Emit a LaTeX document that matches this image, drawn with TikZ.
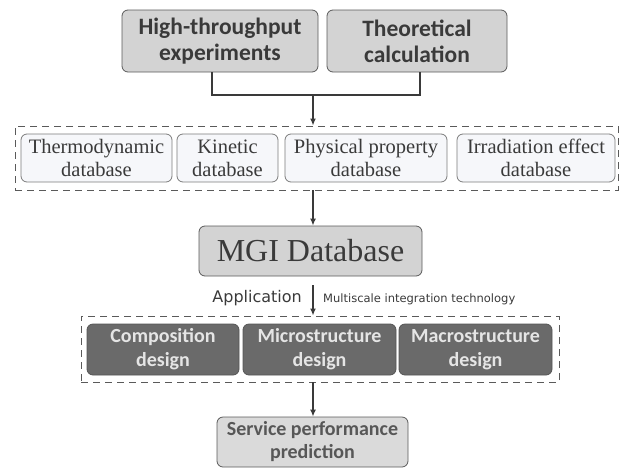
\documentclass[tikz,border=0pt]{standalone}
\usepackage{fontspec}
\setmainfont{Liberation Serif}
\newfontfamily\calib{Carlito}
\newfontfamily\verd{DejaVu Sans}
\newfontfamily\verdc{DejaVu Sans Condensed}
\usetikzlibrary{arrows.meta}
\definecolor{topfill}{HTML}{D3D3D3}
\definecolor{dbfill}{HTML}{F6F7FA}
\definecolor{darkfill}{HTML}{6A6A6A}
\definecolor{edge}{HTML}{5A5A5A}
\definecolor{txt}{HTML}{3A3A3A}
\tikzset{
  box/.style={draw=edge, line width=0.8pt, rounded corners=6pt, align=center, inner sep=0pt},
  topbox/.style={box, fill=topfill, text=txt, font=\calib\bfseries\fontsize{23.5}{26}\selectfont},
  dbbox/.style={box, fill=dbfill, draw=edge!80, text=txt, font=\fontsize{20.5}{23}\selectfont, minimum height=48pt},
  darkbox/.style={box, fill=darkfill, draw=darkfill!80!black, text=white!90!black, font=\calib\bfseries\fontsize{20}{24}\selectfont, minimum height=51pt, minimum width=153pt},
  dashbox/.style={draw=edge, dashed, dash pattern=on 7pt off 5pt, line width=0.9pt},
  conn/.style={draw=txt, line width=1.4pt},
  arr/.style={conn, -{Latex[length=7pt,width=6pt]}},
}
\begin{document}
\begin{tikzpicture}[x=1pt,y=-1pt]
\useasboundingbox (0,0) rectangle (623,469);
% top boxes
\node[topbox, minimum width=196pt, minimum height=62pt] (ht) at (220,41) {High-throughput\\experiments};
\node[topbox, minimum width=180pt, minimum height=62pt] (tc) at (417,41) {Theoretical\\calculation};
% joining connector
\coordinate (htb) at (212,72);
\coordinate (tcb) at (420,72);
\coordinate (jl) at (212,95);
\coordinate (jr) at (420,95);
\coordinate (jm) at (313,95);
\draw[conn] (htb) -- (jl) -- (jr) -- (tcb);
% database group
\node[dashbox, minimum width=603pt, minimum height=64pt, inner sep=0pt] (g1) at (316.5,158) {};
\node[dbbox, minimum width=151pt] (thermo) at (96.5,158) {Thermodynamic\\database};
\node[dbbox, minimum width=101pt] (kin) at (227.5,158) {Kinetic\\database};
\node[dbbox, minimum width=162pt] (phys) at (366,158) {Physical property\\database};
\node[dbbox, minimum width=158pt] (irr) at (536,158) {Irradiation effect\\database};
\draw[arr] (jm) -- (jm |- g1.north);
% MGI
\node[box, fill=topfill, text=txt, minimum width=223pt, minimum height=50pt, font=\fontsize{32}{36}\selectfont] (mgi) at (310.5,251) {MGI Database};
\draw[arr] (313,190) coordinate (g1b) -- (g1b |- mgi.north);
% application
\coordinate (as) at (313,285);
\node[dashbox, minimum width=478pt, minimum height=66pt, inner sep=0pt] (g2) at (320,349) {};
\draw[arr] (as) -- (as |- g2.north);
\node[anchor=base east, text=txt, font=\verd\fontsize{16}{19}\selectfont, inner sep=0pt] (app) at (302,302) {Application};
\node[anchor=base west, text=txt, font=\verd\fontsize{11.5}{14}\selectfont, inner sep=0pt] (ms) at (323,302) {Multiscale integration technology};
% design boxes
\node[darkbox, minimum width=152pt] (comp) at (163,349.5) {Composition\\design};
\node[darkbox] (micro) at (319.5,349.5) {Microstructure\\design};
\node[darkbox] (macro) at (475.5,349.5) {Macrostructure\\design};
% service
\node[box, fill=topfill!85!white, text=txt!85!white, minimum width=191pt, minimum height=50pt, font=\calib\bfseries\fontsize{20}{23}\selectfont] (serv) at (312.5,442) {Service performance\\prediction};
\draw[arr] (313,382) coordinate (g2b) -- (g2b |- serv.north);
\end{tikzpicture}
\end{document}
